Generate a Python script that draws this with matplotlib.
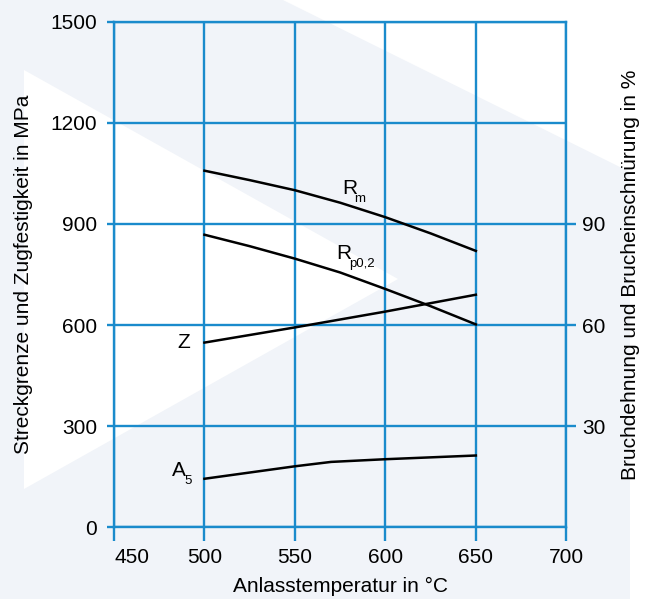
import matplotlib.pyplot as plt
from matplotlib.patches import Polygon

# Tensile strength R_m and yield strength R_p0,2 (MPa, left axis)
temps_r = [500, 525, 550, 575, 600, 625, 650]
rm = [1058, 1030, 1000, 963, 920, 872, 820]
rp02 = [868, 834, 797, 756, 707, 656, 602]

# Reduction of area Z and elongation A5 (%, right axis)
temps_z = [500, 550, 600, 650]
z = [54.8, 59.3, 64.0, 69.0]
temps_a5 = [500, 550, 570, 600, 650]
a5 = [14.4, 18.1, 19.4, 20.2, 21.3]

x_ticks = [450, 500, 550, 600, 650, 700]
y_ticks = [0, 300, 600, 900, 1200, 1500]
y2_ticks = [30, 60, 90]

BLUE = '#1a8bcc'
GREY = '#f1f4f9'
W, H = 654, 599

plt.rcParams['font.family'] = ['Liberation Sans', 'DejaVu Sans']
plt.rcParams['font.size'] = 15

fig = plt.figure(figsize=(W / 100, H / 100), dpi=100)
fig.patch.set_facecolor('white')


def fpx(pts):
    """pixel coords (from top-left) -> figure fraction"""
    return [(x / W, 1 - y / H) for x, y in pts]


# watermark shapes in the background
band = Polygon(fpx([(0, 0), (283, 0), (630, 172), (630, H), (0, H)]),
               closed=True, transform=fig.transFigure, facecolor=GREY,
               edgecolor='none', zorder=-10)
tri = Polygon(fpx([(24, 70), (398, 279), (24, 489)]),
              closed=True, transform=fig.transFigure, facecolor='white',
              edgecolor='none', zorder=-9)
fig.add_artist(band)
fig.add_artist(tri)

ax = fig.add_axes([114 / W, 1 - 527.3 / H, 452.3 / W, 505.6 / H])
ax.patch.set_visible(False)
ax2 = ax.twinx()
ax2.patch.set_visible(False)

ax.set_xlim(450, 700)
ax.set_ylim(0, 1500)
ax2.set_ylim(0, 150)

ax.set_xticks(x_ticks)
ax.set_yticks(y_ticks)
ax2.set_yticks(y2_ticks)

ax.grid(True, color=BLUE, linewidth=1.7)
for sp in ax.spines.values():
    sp.set_color(BLUE)
    sp.set_linewidth(1.7)
for sp in ax2.spines.values():
    sp.set_visible(False)

ax.tick_params(axis='x', direction='out', length=10, width=1.7, color=BLUE, pad=5)
ax.tick_params(axis='y', direction='out', length=5, width=1.7, color=BLUE, pad=7)
ax2.tick_params(axis='y', direction='out', length=7.5, width=1.7, color=BLUE, pad=4)
ax.get_xticklabels()[0].set_horizontalalignment('left')

ax.plot(temps_r, rm, color='black', linewidth=1.8)
ax.plot(temps_r, rp02, color='black', linewidth=1.8)
ax2.plot(temps_z, z, color='black', linewidth=1.8)
ax2.plot(temps_a5, a5, color='black', linewidth=1.8)


def label(axis, x, y, main, sub, dx):
    axis.text(x, y, main, ha='left', va='baseline')
    if sub:
        axis.annotate(sub, (x, y), xytext=(dx, -6), textcoords='offset points',
                      ha='left', va='baseline', fontsize=9.5)


label(ax, 576, 989, 'R', 'm', 9)
label(ax, 573, 797, 'R', 'p0,2', 9)
label(ax, 485, 532, 'Z', '', 0)
label(ax, 482, 153, 'A', '5', 9.3)

ax.set_xlabel('Anlasstemperatur in °C')
ax.xaxis.set_label_coords(0.5, -0.098)
ax.set_ylabel('Streckgrenze und Zugfestigkeit in MPa')
ax.yaxis.set_label_coords(-0.179, 0.5)
ax2.set_ylabel('Bruchdehnung und Brucheinschnürung in %')
ax2.yaxis.set_label_coords(1.121, 0.5)

fig.savefig('out.png', dpi=100)
